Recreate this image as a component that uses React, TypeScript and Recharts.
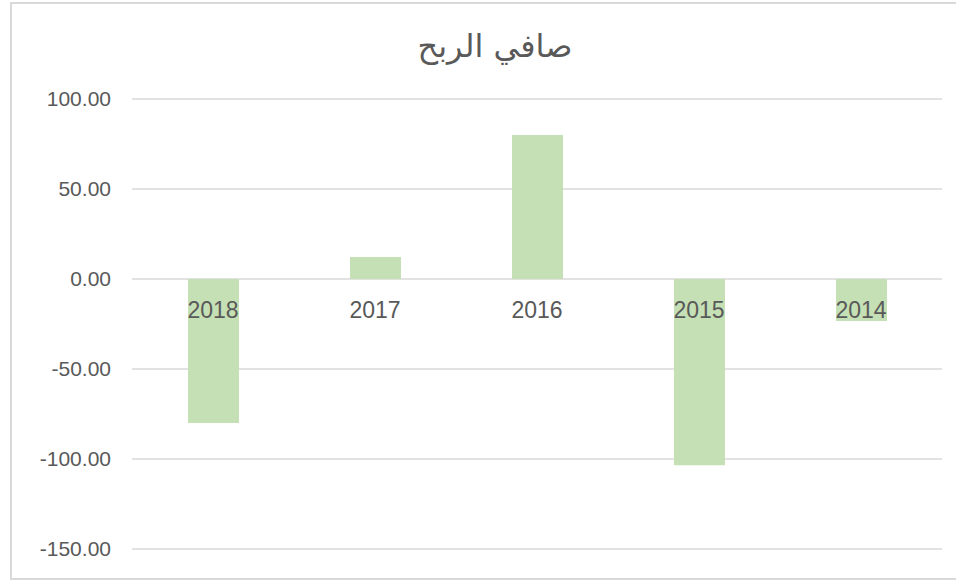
import { Bar, BarChart, CartesianGrid, XAxis, YAxis } from "recharts";

const years = ["2018", "2017", "2016", "2015", "2014"];
const netProfit = [-80, 12.2, 80, -103.5, -23.3];
const yTicks = [-150, -100, -50, 0, 50, 100];
const title = "صافي الربح";

const data = years.map((year, i) => ({ year, value: netProfit[i] }));

const FONT = '"Liberation Sans", Arial, sans-serif';
const TEXT = "#595959";

// plot spans 99..549 for domain [-150, 100]; zero sits at 279,
// year labels sit just below the zero line like in Excel
const ZERO_SHIFT = 549 - 318;

function YearTick(props: any) {
  const { x, y, payload } = props;
  return (
    <text
      x={x}
      y={y - ZERO_SHIFT}
      textAnchor="middle"
      fill={TEXT}
      fontSize={23}
      fontFamily={FONT}
    >
      {payload.value}
    </text>
  );
}

export default function App() {
  return (
    <div style={{ position: "absolute", left: 0, top: 0, width: 956, height: 581, overflow: "hidden", background: "#fff" }}>
      <div
        style={{
          position: "absolute",
          left: 10,
          top: 2,
          width: 980,
          height: 574,
          border: "2px solid #D9D9D9",
        }}
      />
      <div
        dir="rtl"
        style={{
          position: "absolute",
          left: 0,
          width: 990,
          top: 26,
          textAlign: "center",
          fontSize: 32,
          fontFamily: '"DejaVu Sans", sans-serif',
          color: TEXT,
          lineHeight: "40px",
        }}
      >
        {title}
      </div>
      <div style={{ position: "absolute", left: 0, top: 0 }}>
        <BarChart
          width={956}
          height={581}
          data={data}
          margin={{ top: 99, right: 14, bottom: 0, left: 0 }}
          barSize={51}
        >
          <CartesianGrid vertical={false} stroke="#D9D9D9" strokeWidth={1.5} />
          <YAxis
            width={132}
            domain={[-150, 100]}
            ticks={yTicks}
            axisLine={false}
            tickLine={false}
            tickSize={0}
            tickMargin={21}
            tickFormatter={(v: number) => v.toFixed(2)}
            tick={{ fill: TEXT, fontSize: 21, fontFamily: FONT }}
          />
          <Bar dataKey="value" fill="#C5E0B4" isAnimationActive={false} />
          <XAxis
            dataKey="year"
            axisLine={false}
            tickLine={false}
            tickSize={0}
            tickMargin={0}
            height={32}
            interval={0}
            tick={YearTick}
          />
        </BarChart>
      </div>
    </div>
  );
}
